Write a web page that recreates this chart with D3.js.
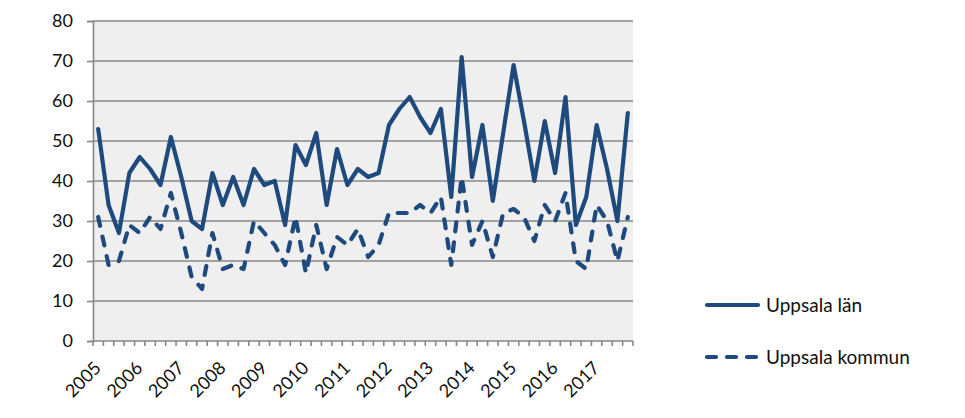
<!DOCTYPE html>
<html>
<head>
<meta charset="utf-8">
<script src="https://cdn.jsdelivr.net/npm/d3@7"></script>
<style>
  html, body { margin: 0; padding: 0; background: #fff; }
  svg { display: block; font-family: Lato, "Open Sans", sans-serif; }
</style>
</head>
<body>
<svg id="chart" width="965" height="418"></svg>
<script>
const years = [2005, 2006, 2007, 2008, 2009, 2010, 2011, 2012, 2013, 2014, 2015, 2016, 2017];
const quarters = ["K1", "K2", "K3", "K4"];
const yTicks = [0, 10, 20, 30, 40, 50, 60, 70, 80];
const seriesNames = ["Uppsala län", "Uppsala kommun"];
const uppsalaLan = [53, 34, 27, 42, 46, 43, 39, 51, 41, 30, 28, 42, 34, 41, 34, 43, 39, 40, 29, 49,
  44, 52, 34, 48, 39, 43, 41, 42, 54, 58, 61, 56, 52, 58, 36, 71, 41, 54, 35, 52,
  69, 55, 40, 55, 42, 61, 29, 36, 54, 43, 30, 57];
const uppsalaKommun = [31, 19, 20, 29, 27, 31, 28, 37, 27, 16, 13, 27, 18, 19, 18, 30, 27, 24, 19, 31,
  17, 29, 18, 26, 24, 28, 21, 24, 32, 32, 32, 34, 32, 36, 19, 41, 24, 30, 21, 32,
  33, 31, 25, 34, 30, 37, 20, 18, 34, 30, 20, 31];

const categories = [];
years.forEach(y => quarters.forEach(q => categories.push(y + " " + q)));

const svg = d3.select("#chart");
const m = { left: 93, right: 965 - 633, top: 21, bottom: 418 - 341 };
const W = 965, H = 418;
const x = d3.scaleBand().domain(categories).range([m.left, W - m.right]);
const y = d3.scaleLinear().domain([0, 80]).range([H - m.bottom, m.top]);
const cx = d => x(d) + x.bandwidth() / 2;

const gridColor = "#878787";
const lineColor = "#1f4a7e";

// plot background
svg.append("rect")
  .attr("x", m.left).attr("y", m.top)
  .attr("width", W - m.left - m.right).attr("height", H - m.top - m.bottom)
  .attr("fill", "#efefef");

// gridlines
svg.append("g").selectAll("line").data(yTicks.filter(t => t > 0)).join("line")
  .attr("x1", m.left).attr("x2", W - m.right)
  .attr("y1", d => y(d)).attr("y2", d => y(d))
  .attr("stroke", gridColor).attr("stroke-width", 1.6);

// y axis
const yAxis = svg.append("g").attr("transform", `translate(${m.left},0)`)
  .call(d3.axisLeft(y).tickValues(yTicks).tickSize(6).tickPadding(14));
yAxis.select(".domain").attr("stroke", gridColor).attr("stroke-width", 1.6);
yAxis.selectAll(".tick line").attr("stroke", gridColor).attr("stroke-width", 1.6);
yAxis.selectAll(".tick text").attr("font-size", 18).attr("fill", "#111").attr("font-family", "Lato, sans-serif");

// x axis ticks at band boundaries
const boundaries = categories.map(c => x(c)).concat([W - m.right]);
svg.append("g").selectAll("line").data(boundaries).join("line")
  .attr("x1", d => d).attr("x2", d => d)
  .attr("y1", y(0)).attr("y2", y(0) + 5)
  .attr("stroke", gridColor).attr("stroke-width", 1.6);
svg.append("line")
  .attr("x1", m.left).attr("x2", W - m.right)
  .attr("y1", y(0)).attr("y2", y(0))
  .attr("stroke", gridColor).attr("stroke-width", 1.6);

// year labels
svg.append("g").selectAll("text").data(years).join("text")
  .attr("transform", d => `translate(${cx(d + " K1") + 4},${y(0) + 28}) rotate(-45)`)
  .attr("text-anchor", "end")
  .attr("font-size", 18)
  .attr("fill", "#111")
  .text(d => d);

// lines
const line = d3.line().x((d, i) => cx(categories[i])).y(d => y(d));
svg.append("path").datum(uppsalaLan)
  .attr("d", line).attr("fill", "none")
  .attr("stroke", lineColor).attr("stroke-width", 4.2)
  .attr("stroke-linejoin", "round").attr("stroke-linecap", "round");
svg.append("path").datum(uppsalaKommun)
  .attr("d", line).attr("fill", "none")
  .attr("stroke", lineColor).attr("stroke-width", 4.2)
  .attr("stroke-dasharray", "9,11")
  .attr("stroke-linejoin", "round").attr("stroke-linecap", "round");

// legend
const legend = svg.append("g");
const legItems = [
  { name: seriesNames[0], dash: null, y: 305 },
  { name: seriesNames[1], dash: "9,11", y: 357 }
];
legItems.forEach(it => {
  legend.append("line")
    .attr("x1", 707).attr("x2", 758).attr("y1", it.y).attr("y2", it.y)
    .attr("stroke", lineColor).attr("stroke-width", 4.2)
    .attr("stroke-linecap", "round")
    .attr("stroke-dasharray", it.dash);
  legend.append("text")
    .attr("x", 766).attr("y", it.y + 7)
    .attr("font-size", 19).attr("fill", "#111")
    .text(it.name);
});
</script>
</body>
</html>
